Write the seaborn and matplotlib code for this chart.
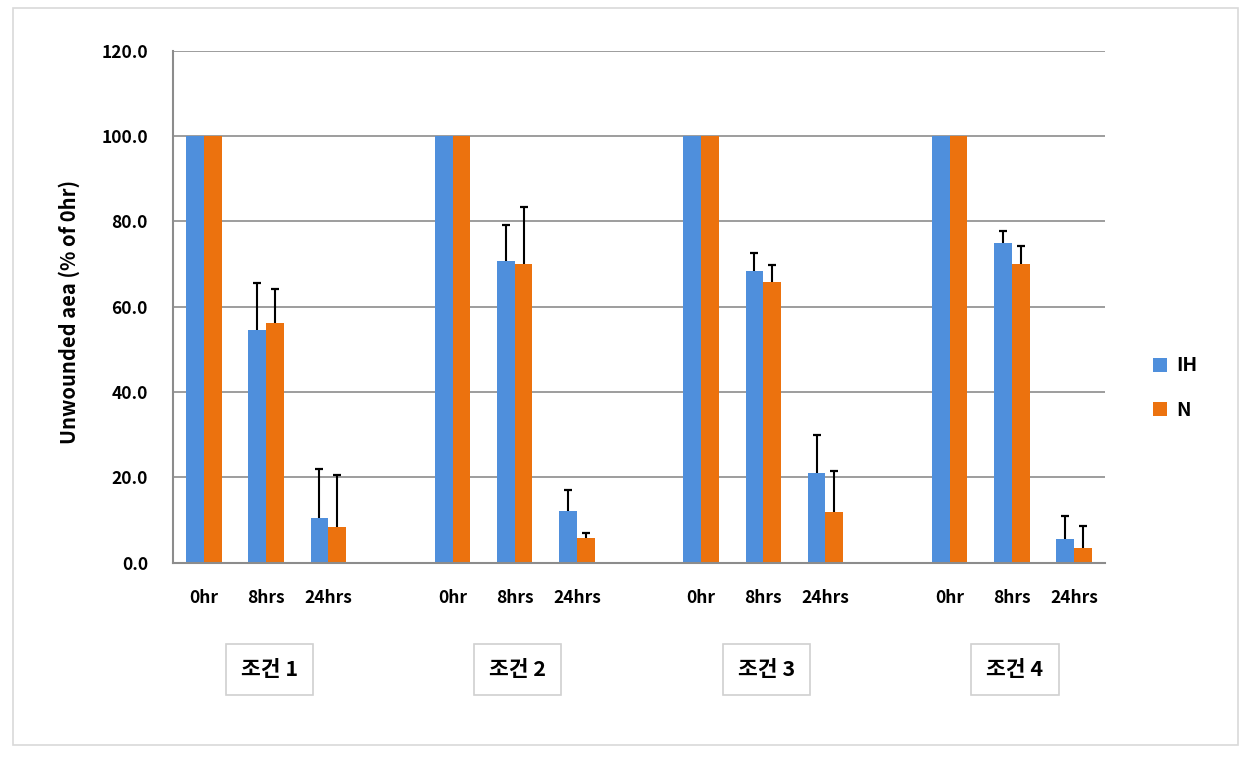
"""
Wound healing assay: unwounded area (% of 0hr) for IH vs N under four conditions.
"""

import pandas as pd
import matplotlib.pyplot as plt
import matplotlib.transforms as mtransforms
from matplotlib.patches import Patch, Rectangle
import seaborn as sns

# Data
conditions = ["조건 1", "조건 2", "조건 3", "조건 4"]
times = ["0hr", "8hrs", "24hrs"]
series = ["IH", "N"]

ih_mean = [100, 54.5, 10.4, 100, 70.8, 12.2, 100, 68.4, 21.0, 100, 74.9, 5.6]
ih_err = [0, 11.1, 11.5, 0, 8.3, 4.8, 0, 4.3, 9.0, 0, 2.9, 5.3]
n_mean = [100, 56.2, 8.3, 100, 69.9, 5.7, 100, 65.7, 11.9, 100, 69.9, 3.5]
n_err = [0, 7.9, 12.2, 0, 13.4, 1.2, 0, 4.1, 9.5, 0, 4.3, 5.1]

colors = {"IH": "#4F8FDC", "N": "#EC720E"}
GRAY = "#8C8C8C"


def build_frame():
    rows = []
    for s, means, errs in [("IH", ih_mean, ih_err), ("N", n_mean, n_err)]:
        i = 0
        for c in conditions:
            for t in times:
                rows.append({"slot": f"{c}|{t}", "time": t, "series": s,
                             "value": means[i], "err": errs[i]})
                i += 1
    return pd.DataFrame(rows)


def slot_order():
    order, labels = [], []
    for k, c in enumerate(conditions):
        for t in times:
            order.append(f"{c}|{t}")
            labels.append(t)
        if k < len(conditions) - 1:
            order.append(f"gap{k}")
            labels.append("")
    return order, labels


def main():
    df = build_frame()
    order, labels = slot_order()

    sns.set_style("white")
    plt.rcParams["font.family"] = ["Noto Sans CJK KR", "DejaVu Sans"]
    plt.rcParams["font.weight"] = "bold"
    plt.rcParams["text.color"] = "black"
    plt.rcParams["axes.labelcolor"] = "black"
    plt.rcParams["xtick.labelcolor"] = "black"
    plt.rcParams["ytick.labelcolor"] = "black"

    fig = plt.figure(figsize=(12.56, 7.58), dpi=100)
    ax = fig.add_axes([0.1377, 0.2577, 0.7421, 0.6754])

    sns.barplot(data=df, x="slot", y="value", hue="series", order=order,
                hue_order=series, palette=colors, width=0.57, saturation=1,
                linewidth=0, errorbar=None, ax=ax)

    # upper-only error bars, placed on the drawn bars
    for s, cont in zip(series, ax.containers):
        errs = df[df["series"] == s]["err"].tolist()
        for bar, e in zip(cont, errs):
            if e <= 0:
                continue
            x = bar.get_x() + bar.get_width() / 2
            y = bar.get_height()
            ax.plot([x, x], [y, y + e], color="black", linewidth=1.5, zorder=5,
                    solid_capstyle="butt")
            ax.plot([x], [y + e], marker="_", markersize=6, markeredgewidth=1.6,
                    color="black", zorder=5)

    ax.set_ylim(0, 120)
    ax.set_xlim(-0.5, len(order) - 0.5)
    ax.set_yticks(range(0, 121, 20))
    ax.set_yticklabels([f"{v:.1f}" for v in range(0, 121, 20)])
    ax.set_xticks(range(len(order)))
    ax.set_xticklabels(labels)
    ax.set_xticks([i - 0.5 for i in range(len(order) + 1)], minor=True)

    ax.grid(axis="y", color=GRAY, linewidth=1.2)
    ax.set_axisbelow(True)
    for side in ["top", "right"]:
        ax.spines[side].set_visible(False)
    for side in ["left", "bottom"]:
        ax.spines[side].set_color(GRAY)
        ax.spines[side].set_linewidth(1.5)

    ax.tick_params(axis="y", which="major", length=4, color=GRAY, width=1.2,
                   pad=14, labelsize=12.5)
    ax.tick_params(axis="x", which="major", length=0, pad=19, labelsize=12.5)
    ax.tick_params(axis="x", which="minor", length=5, color=GRAY, width=1.2)
    for lab in ax.get_xticklabels() + ax.get_yticklabels():
        lab.set_fontweight("bold")

    ax.set_xlabel("")
    ax.set_ylabel("Unwounded aea (% of 0hr)", fontsize=14.5, fontweight="bold")
    ax.yaxis.set_label_coords(-0.1, 0.49)

    # condition boxes under each group
    trans = mtransforms.blended_transform_factory(ax.transData, ax.transAxes)
    for k, c in enumerate(conditions):
        ax.text(4 * k + 1.05, -0.208, c, transform=trans, ha="center",
                va="center", fontsize=15.5, fontweight="bold",
                bbox=dict(boxstyle="square,pad=0.7", facecolor="white",
                          edgecolor="#D0D0D0", linewidth=1.2))

    ax.get_legend().remove()
    handles = [Patch(facecolor=colors[s], edgecolor="none") for s in series]
    ax.legend(handles, series, loc="center left", bbox_to_anchor=(1.051, 0.341),
              frameon=False, handlelength=0.75, handleheight=0.75,
              handletextpad=0.45, labelspacing=1.3, borderpad=0,
              borderaxespad=0, prop={"size": 14, "weight": "bold"})

    # light outer frame around the chart area
    fig.patches.append(Rectangle((0.0104, 0.0172), 0.975, 0.972,
                                 transform=fig.transFigure, fill=False,
                                 edgecolor="#D9D9D9", linewidth=1.2))

    fig.savefig("out.png", dpi=100)


if __name__ == "__main__":
    main()
